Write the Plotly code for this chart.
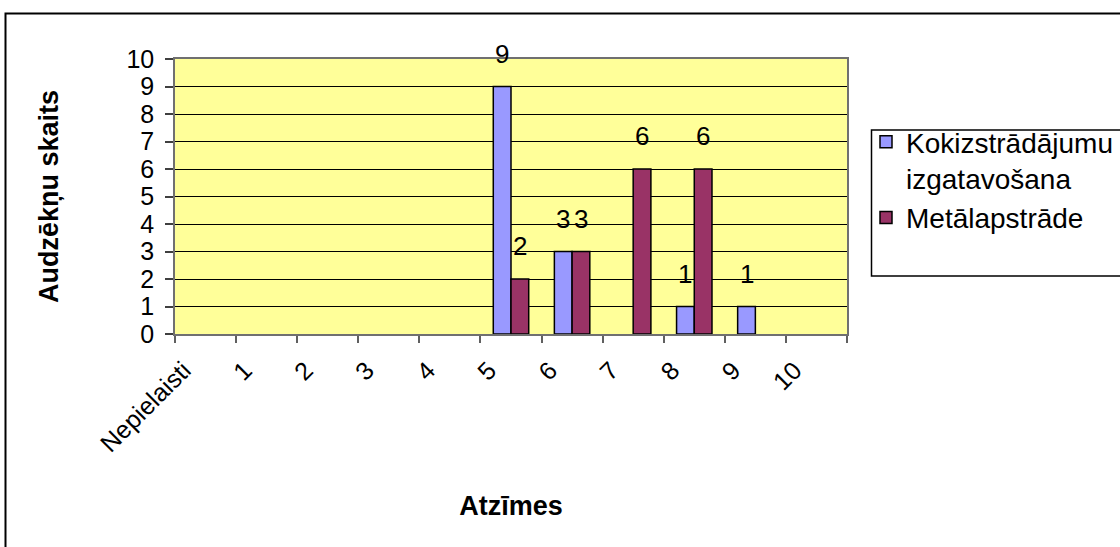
import plotly.graph_objects as go

# Grades (x categories) and student counts per programme
categories = ["Nepielaisti", "1", "2", "3", "4", "5", "6", "7", "8", "9", "10"]
kokizstradajumi = [0, 0, 0, 0, 0, 9, 3, 0, 1, 1, 0]
metalapstrade = [0, 0, 0, 0, 0, 2, 3, 6, 6, 0, 0]
series_names = ["Kokizstrādājumu<br>izgatavošana", "Metālapstrāde"]
series_colors = ["#9999FF", "#993366"]

FONT = "Arial, Liberation Sans, sans-serif"
W, H = 1120, 547
L, R, T, B = 175, 273, 59, 213
PW, PH = W - L - R, H - T - B

BARGAP = 0.42
half = (1 - BARGAP) / 4  # offset of each bar centre from the category centre


def px_x(x):
    return (x - L) / PW


def px_y(y):
    return (H - B - y) / PH


fig = go.Figure()
for name, vals, col in zip(series_names, [kokizstradajumi, metalapstrade], series_colors):
    # zero counts leave an empty slot instead of a flat outlined bar
    shown = [v if v else None for v in vals]
    fig.add_trace(go.Bar(
        x=categories, y=shown, name=name,
        marker=dict(color=col, line=dict(color="black", width=1.5)),
    ))

# value labels above non-zero bars
annotations = []
for k, vals in enumerate([kokizstradajumi, metalapstrade]):
    off = -half if k == 0 else half
    for i, v in enumerate(vals):
        if v:
            annotations.append(dict(
                x=i + off, y=v, xref="x", yref="y", text=str(v),
                showarrow=False, yanchor="bottom", yshift=16,
                font=dict(family=FONT, size=26, color="black"),
            ))

shapes = [
    # outer chart frame
    dict(type="rect", xref="paper", yref="paper",
         x0=px_x(5.5), x1=px_x(1130), y0=px_y(560), y1=px_y(13.5),
         line=dict(color="black", width=2), fillcolor="rgba(0,0,0,0)", layer="above"),
    # legend frame
    dict(type="rect", xref="paper", yref="paper",
         x0=px_x(871.5), x1=px_x(1130), y0=px_y(276), y1=px_y(130),
         line=dict(color="black", width=1.5), fillcolor="rgba(0,0,0,0)", layer="above"),
]

fig.update_layout(
    width=W, height=H,
    margin=dict(l=L, r=R, t=T, b=B, autoexpand=False),
    paper_bgcolor="white", plot_bgcolor="#FFFF99",
    barmode="group", bargap=BARGAP, bargroupgap=0,
    font=dict(family=FONT, color="black"),
    showlegend=True,
    legend=dict(
        x=px_x(866), y=px_y(117), xanchor="left", yanchor="top",
        font=dict(family=FONT, size=28, color="black"),
        valign="top", bgcolor="rgba(0,0,0,0)", borderwidth=0,
        traceorder="normal", tracegroupgap=0,
    ),
    annotations=annotations,
    shapes=shapes,
)

fig.update_xaxes(
    type="category", tickson="boundaries", ticks="outside", ticklen=7,
    tickcolor="#606060", tickwidth=1.5,
    showline=True, linecolor="#707070", linewidth=1.5, mirror=True,
    showgrid=False, tickangle=-45,
    tickfont=dict(family=FONT, size=25, color="black"),
    ticklabelshift=-22, ticklabelstandoff=10,
    title=dict(text="<b>Atzīmes</b>", font=dict(family=FONT, size=27), standoff=40),
)
fig.update_yaxes(
    range=[0, 10], dtick=1, tick0=0, ticks="outside", ticklen=8,
    tickcolor="#404040", tickwidth=1.5,
    showline=True, linecolor="#707070", linewidth=1.5, mirror=True,
    showgrid=True, gridcolor="black", gridwidth=1, zeroline=False,
    tickfont=dict(family=FONT, size=25, color="black"),
    ticklabelstandoff=6,
    title=dict(text="<b>Audzēkņu skaits</b>", font=dict(family=FONT, size=27), standoff=60),
)

fig.write_html("out.html")
